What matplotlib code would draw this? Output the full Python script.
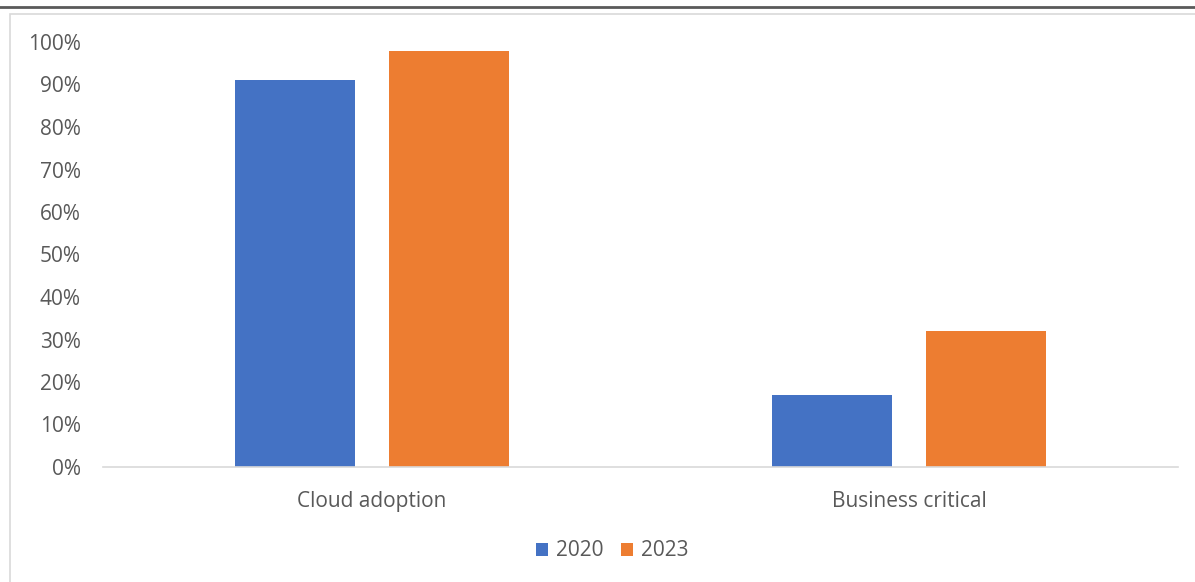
import numpy as np
import matplotlib.pyplot as plt
from matplotlib.patches import Rectangle
from matplotlib.lines import Line2D

categories = ['Cloud adoption', 'Business critical']
series = ['2020', '2023']
values_2020 = [0.91, 0.17]
values_2023 = [0.98, 0.32]
colors = ['#4472C4', '#ED7D31']

plt.rcParams['font.family'] = ['Open Sans', 'DejaVu Sans']

W, H = 1195, 582
fig = plt.figure(figsize=(W / 100, H / 100), dpi=100)

# outer frame bits (screenshot border)
fig.add_artist(Line2D([0, 1], [1 - 6.5 / H, 1 - 6.5 / H], color='#5a5a5a', lw=2))
fig.add_artist(Rectangle((9.5 / W, -0.1), 1.2, 1 - 13.5 / H + 0.1, fill=False,
                         edgecolor='#d9d9d9', lw=1.2))

ax = fig.add_axes([103 / W, 1 - 467 / H, 1075 / W, 425 / H])
x = np.arange(len(categories))
w = 0.223
off = 0.143
ax.bar(x - off, values_2020, w, color=colors[0], label=series[0])
ax.bar(x + off, values_2023, w, color=colors[1], label=series[1])

ax.set_xlim(-0.5, 1.5)
ax.set_ylim(0, 1)
ticks = np.arange(0, 1.01, 0.1)
ax.set_yticks(ticks)
ax.set_yticklabels([f'{int(round(v * 100))}%' for v in ticks])
ax.set_xticks(x)
ax.set_xticklabels(categories)
for s in ['top', 'right', 'left']:
    ax.spines[s].set_visible(False)
ax.spines['bottom'].set_color('#d9d9d9')
ax.spines['bottom'].set_linewidth(1.2)
ax.tick_params(axis='both', length=0, labelsize=15, colors='#595959')
ax.tick_params(axis='y', pad=16)
ax.tick_params(axis='x', pad=17)

leg = fig.legend(loc='center', bbox_to_anchor=(612 / W, 1 - 551 / H), ncol=2,
                 frameon=False, fontsize=15, handlelength=0.6, handleheight=0.6,
                 handletextpad=0.35, columnspacing=0.85)
for t in leg.get_texts():
    t.set_color('#595959')

fig.savefig('out.png', dpi=100)
